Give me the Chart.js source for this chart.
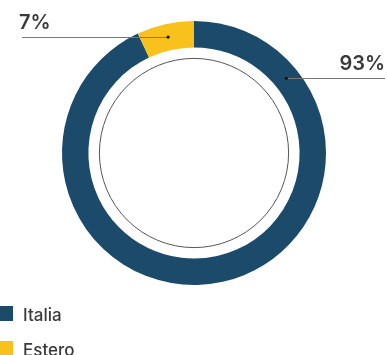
<!DOCTYPE html>
<html>
<head>
<meta charset="utf-8">
<script src="https://cdn.jsdelivr.net/npm/chart.js@4/dist/chart.umd.min.js"></script>
<style>
	html, body { margin: 0; padding: 0; background: #fff; }
	#wrap { width: 387px; height: 355px; position: relative; }
</style>
</head>
<body>
<div id="wrap"><canvas id="myChart" width="387" height="355"></canvas></div>
<script>
/* globals Chart:false */
const categories = ['Italia', 'Estero'];
const shares = [93, 7];
const colors = ['#1b4a6b', '#f8c11b'];

// where the leader line leaves each slice (degrees clockwise from top) and which side the label goes
const labelAngles = [51, null];
const labelSides = ['right', 'left'];

const textColor = '#3a3a3a';
const fontFamily = 'Inter, "Noto Sans", sans-serif';

let leaderPlugin = {
	id: 'leaders',
	afterDatasetsDraw(chart) {
		const ctx = chart.ctx;
		const arcs = chart.getDatasetMeta(0).data;
		const first = arcs[0];
		const cx = first.x;
		const cy = first.y;

		// thin circle inside the hole
		ctx.save();
		ctx.beginPath();
		ctx.arc(cx, cy, first.innerRadius - 11, 0, Math.PI * 2);
		ctx.strokeStyle = '#555';
		ctx.lineWidth = 1;
		ctx.stroke();
		ctx.restore();

		arcs.forEach((arc, i) => {
			let angle;
			if (labelAngles[i] === null) {
				angle = (arc.startAngle + arc.endAngle) / 2;
			} else {
				angle = labelAngles[i] * Math.PI / 180 - Math.PI / 2;
			}
			const r = (arc.innerRadius + arc.outerRadius) / 2;
			const px = cx + Math.cos(angle) * r;
			const py = cy + Math.sin(angle) * r;
			const endX = labelSides[i] === 'right' ? chart.width - 2 : 22;

			ctx.save();
			ctx.strokeStyle = '#777';
			ctx.lineWidth = 1;
			ctx.beginPath();
			ctx.moveTo(px, Math.round(py) + 0.5);
			ctx.lineTo(endX, Math.round(py) + 0.5);
			ctx.stroke();

			ctx.fillStyle = '#111';
			ctx.beginPath();
			ctx.arc(px, py, 1.6, 0, Math.PI * 2);
			ctx.fill();

			ctx.font = '600 20px ' + fontFamily;
			ctx.fillStyle = textColor;
			ctx.textBaseline = 'alphabetic';
			ctx.textAlign = labelSides[i] === 'right' ? 'right' : 'left';
			const tx = labelSides[i] === 'right' ? chart.width - 2 : 19;
			ctx.fillText(shares[i] + '%', tx, py - 8);
			ctx.restore();
		});
	},
	afterDraw(chart) {
		// legend, stacked bottom-left
		const ctx = chart.ctx;
		ctx.save();
		categories.forEach((name, i) => {
			const y = 306 + i * 35;
			ctx.fillStyle = colors[i];
			ctx.fillRect(0, y, 13, 15);
			ctx.font = '500 17px ' + fontFamily;
			ctx.fillStyle = textColor;
			ctx.textAlign = 'left';
			ctx.textBaseline = 'alphabetic';
			ctx.fillText(name, 23, y + 15);
		});
		ctx.restore();
	}
};

let chartJson = {
	type: 'doughnut',
	data: {
		labels: categories,
		datasets: [{
			data: shares,
			backgroundColor: colors,
			borderWidth: 0
		}]
	},
	options: {
		responsive: false,
		animation: false,
		cutout: '80%',
		layout: {
			padding: { left: 62, right: 61, top: 21, bottom: 70 }
		},
		plugins: {
			legend: { display: false },
			tooltip: { enabled: false }
		}
	},
	plugins: [leaderPlugin]
};

const myChart = new Chart(document.getElementById('myChart'), chartJson);
</script>
</body>
</html>
